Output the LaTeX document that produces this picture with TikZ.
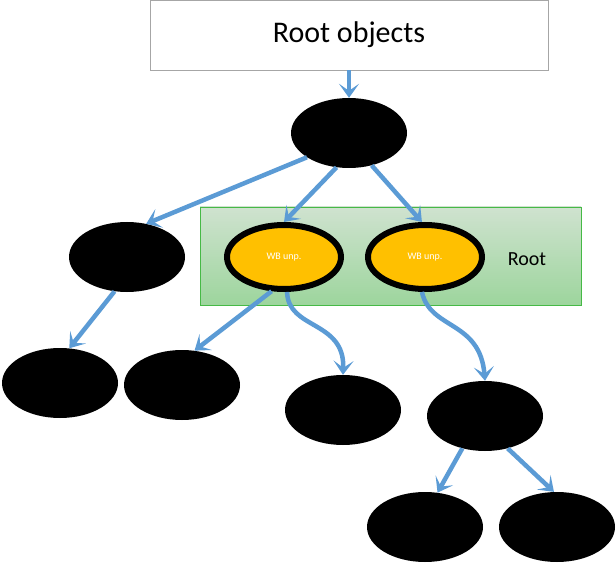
\documentclass[tikz,border=0pt]{standalone}
\usepackage{fontspec}
\setmainfont{Carlito}
\usetikzlibrary{arrows.meta,shapes.geometric}
\definecolor{arr}{HTML}{5B9BD5}
\definecolor{orng}{HTML}{FFC000}
\begin{document}
\begin{tikzpicture}[x=1pt,y=-1pt,
  blk/.style={ellipse,fill=black,minimum width=116pt,minimum height=70pt,inner sep=0pt},
  wb/.style={ellipse,fill=orng,draw=black,line width=6pt,minimum width=114pt,minimum height=64pt,inner sep=0pt,text=white,font=\fontsize{10}{12}\selectfont},
  ar/.style={draw=arr,line width=4.5pt,-{Stealth[length=14pt,width=20pt,inset=7pt]}}]
\useasboundingbox (0,0) rectangle (616,564);
\node[draw=gray!70,fill=white,minimum width=398pt,minimum height=70pt,inner sep=0pt,font=\fontsize{30}{34}\selectfont] (root) at (349,35) {Root objects};
\shade[top color=green!25!gray!30!white,bottom color=green!40!gray!55!white] (200,207) rectangle (581,305);
\node[draw=green!45!gray,line width=0.8pt,minimum width=381pt,minimum height=98pt,inner sep=0pt] (grp) at (390.5,256) {};
\node[font=\fontsize{20}{24}\selectfont] (rl) at (527,259) {Root};
\node[blk] (a) at (349,133) {};
\node[blk] (b) at (127,257) {};
\node[wb] (w1) at (284,257) {WB unp.};
\node[wb] (w2) at (425,257) {WB unp.};
\node[blk] (c1) at (60,383) {};
\node[blk] (c2) at (182,385) {};
\node[blk] (c3) at (343,410) {};
\node[blk] (c4) at (485,416) {};
\node[blk] (d1) at (425,527) {};
\node[blk] (d2) at (557,527) {};
\path[ar] (root.south) -- (a.north);
\path[ar] (a.210) -- (b.60);
\path[ar] (a.250) -- (w1.north);
\path[ar] (a.305) -- (w2.95);
\path[ar] (b.250) -- (c1.75);
\path[ar] (w1.250) -- (c2.70);
\path[ar] (w1.275) .. controls (288,330) and (345,320) .. (c3.north);
\path[ar] (w2.265) .. controls (430,330) and (480,320) .. (c4.north);
\path[ar] (c4.235) -- (d1.70);
\path[ar] (c4.305) -- (d2.95);
\end{tikzpicture}
\end{document}
